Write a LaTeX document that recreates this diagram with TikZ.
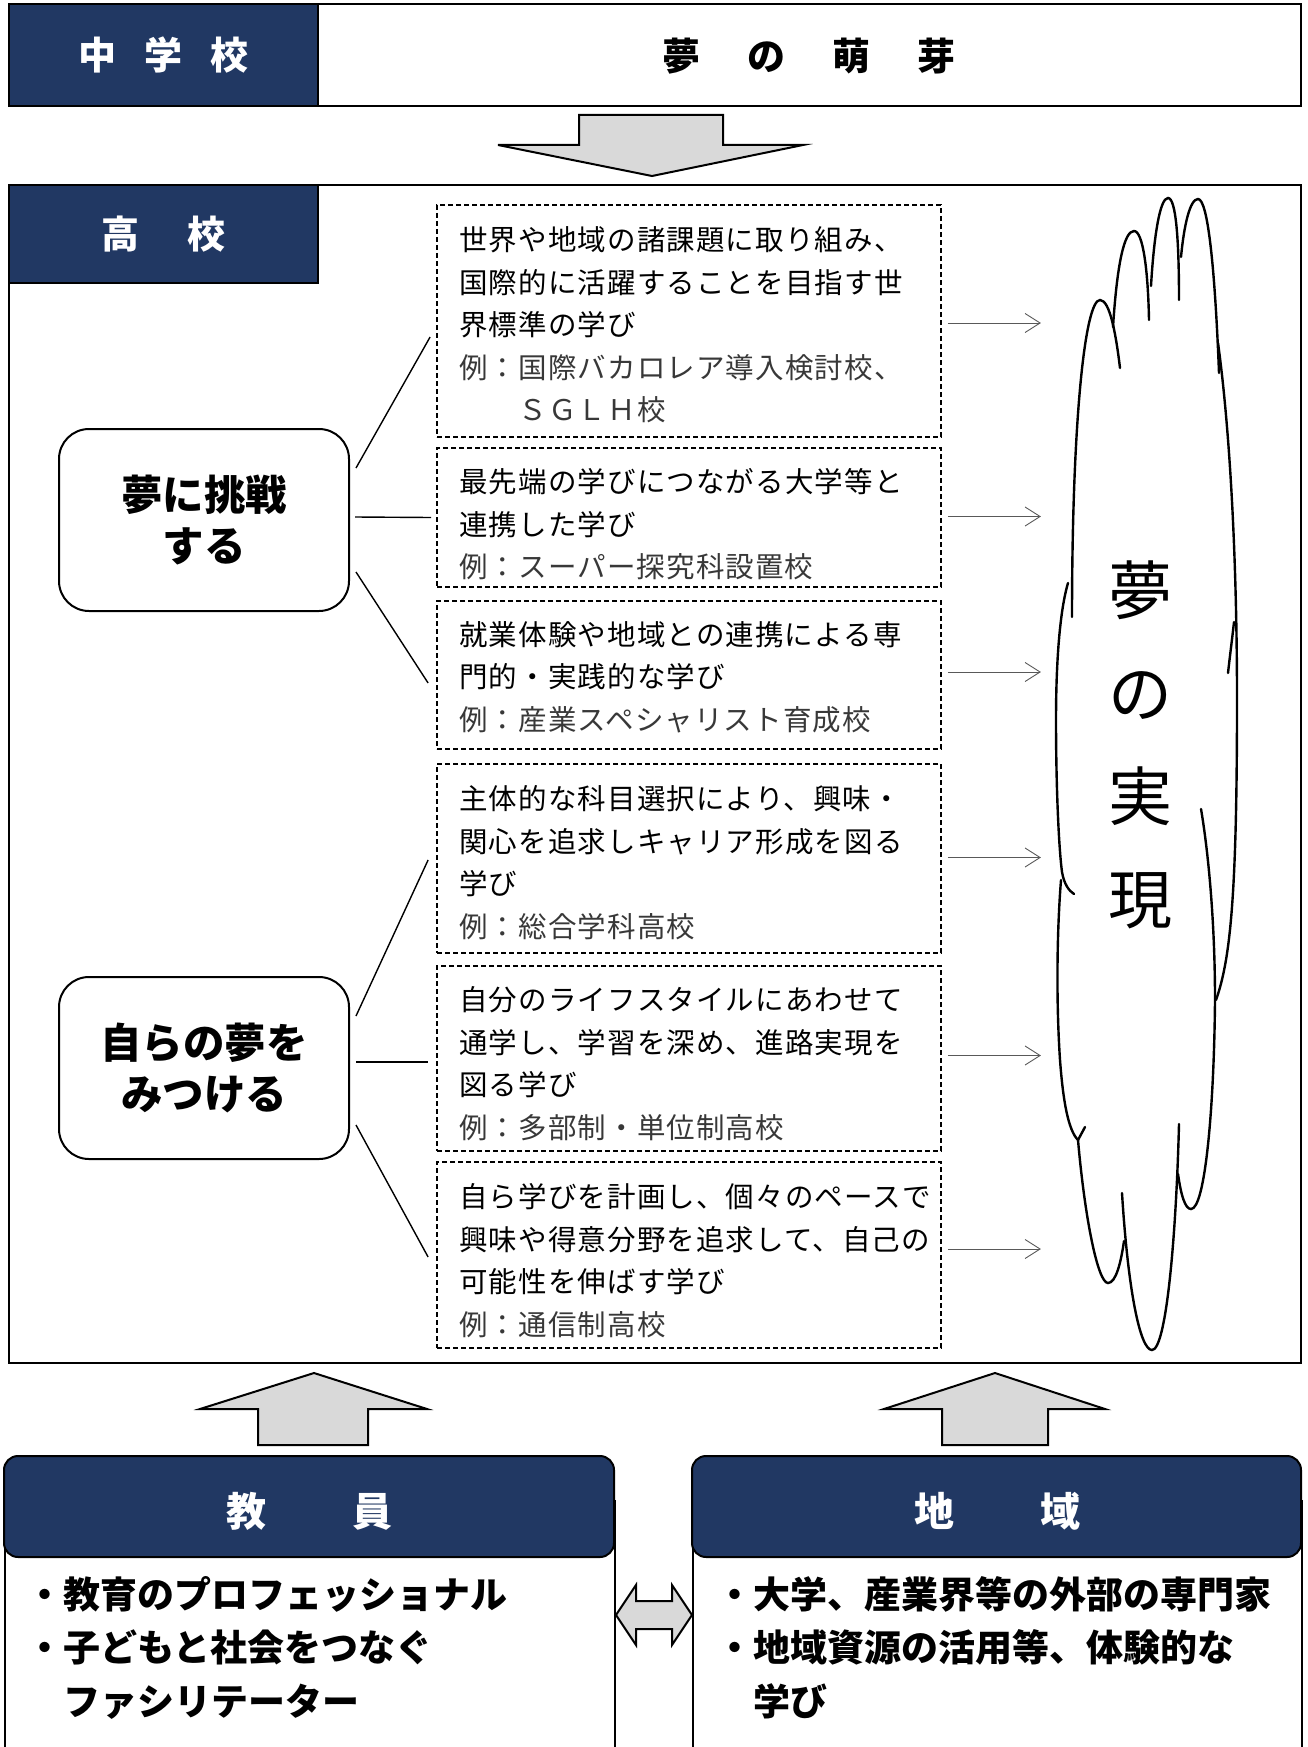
\documentclass[tikz,border=0pt]{standalone}
\usepackage{fontspec}
\setmainfont{Noto Sans CJK JP}
\usetikzlibrary{arrows.meta,calc}
\definecolor{hdrnavy}{RGB}{33,56,99}
\definecolor{blockgray}{RGB}{217,217,217}
\newcommand{\exline}[1]{{\color{black!78}#1}}
\begin{document}
\begin{tikzpicture}[x=1pt,y=-1pt,
 outerbox/.style={draw=black, line width=2.2pt, inner sep=0pt},
 navyhead/.style={draw=black, line width=2.2pt, fill=hdrnavy, text=white, inner sep=0pt, font=\bfseries\fontsize{38}{46}\selectfont},
 dreambox/.style={draw=black, line width=2pt, rounded corners=30pt, minimum width=290pt, minimum height=182pt, inner sep=0pt, align=center, font=\bfseries\fontsize{41.5}{51}\selectfont},
 studybox/.style={draw=black, line width=1.8pt, dash pattern=on 5pt off 3pt, minimum width=504pt, inner sep=0pt},
 studytext/.style={anchor=west, align=left, inner sep=0pt, font=\fontsize{28.5}{42.5}\selectfont\addfontfeature{LetterSpace=4}},
 link/.style={draw=black, line width=1.4pt},
 flow/.style={draw=black!65, line width=0.9pt, -{Straight Barb[length=15pt,width=19pt]}},
 blockarrow/.style={draw=black, line width=2pt, fill=blockgray, line join=miter},
 cloudline/.style={draw=black, line width=2.4pt, line cap=round},
 bodybox/.style={draw=black, line width=1.6pt, inner sep=0pt, anchor=north west},
 partyhead/.style={draw=black, line width=2pt, fill=hdrnavy, rounded corners=14pt, minimum height=101pt, inner sep=0pt, text=white, font=\bfseries\fontsize{40}{48}\selectfont},
 bullettext/.style={anchor=west, align=left, inner sep=0pt, font=\bfseries\fontsize{37}{53.5}\selectfont}
]
\useasboundingbox (0,0) rectangle (1307,1747);

% junior high
\node[outerbox, minimum width=1292pt, minimum height=102pt] (jhsbox) at (655,55) {};
\node[navyhead, minimum width=309pt, minimum height=102pt] (jhslabel) at (163.5,55) {中\hspace{28pt}学\hspace{28pt}校};
\node[font=\bfseries\fontsize{38}{46}\selectfont, inner sep=0pt] (jhstext) at (809,56) {夢\hspace{47pt}の\hspace{47pt}萌\hspace{47pt}芽};

\draw[blockarrow] (579,115) -- (723,115) -- (723,145) -- (803,145) -- (652,176) -- (498,145) -- (579,145) -- cycle;

% high school
\node[outerbox, minimum width=1292pt, minimum height=1178pt] (hsbox) at (655,774) {};
\node[navyhead, minimum width=309pt, minimum height=98pt] (hslabel) at (163.5,234) {高\hspace{48pt}校};

\node[dreambox] (A) at (204,520) {夢に挑戦\\する};
\node[dreambox] (B) at (204,1068) {自らの夢を\\みつける};

\node[studybox, minimum height=232pt] (b1) at (689,321) {};
\node[studybox, minimum height=139pt] (b2) at (689,517.5) {};
\node[studybox, minimum height=148pt] (b3) at (689,675) {};
\node[studybox, minimum height=189pt] (b4) at (689,858.5) {};
\node[studybox, minimum height=185pt] (b5) at (689,1058.5) {};
\node[studybox, minimum height=186pt] (b6) at (689,1255) {};

\node[studytext] (t1) at (459,325) {世界や地域の諸課題に取り組み、\\国際的に活躍することを目指す世\\界標準の学び\\\exline{例：国際バカロレア導入検討校、}\\\exline{　　ＳＧＬＨ校}};
\node[studytext] (t2) at (459,524.5) {最先端の学びにつながる大学等と\\連携した学び\\\exline{例：スーパー探究科設置校}};
\node[studytext] (t3) at (459,677) {就業体験や地域との連携による専\\門的・実践的な学び\\\exline{例：産業スペシャリスト育成校}};
\node[studytext] (t4) at (459,862.5) {主体的な科目選択により、興味・\\関心を追求しキャリア形成を図る\\学び\\\exline{例：総合学科高校}};
\node[studytext] (t5) at (459,1063.5) {自分のライフスタイルにあわせて\\通学し、学習を深め、進路実現を\\図る学び\\\exline{例：多部制・単位制高校}};
\node[studytext] (t6) at (459,1260.5) {自ら学びを計画し、個々のペースで\\興味や得意分野を追求して、自己の\\可能性を伸ばす学び\\\exline{例：通信制高校}};

\draw[link] ($(A.east)+(6,-52)$) -- ($(b1.west)+(-6,16)$);
\draw[link] ($(A.east)+(5,-3)$) -- ($(b2.west)+(-5,0)$);
\draw[link] ($(A.east)+(6,52)$) -- ($(b3.west)+(-8,8)$);
\draw[link] ($(B.east)+(6,-52)$) -- ($(b4.west)+(-8,1.5)$);
\draw[link] ($(B.east)+(6,-6)$) -- ($(b5.west)+(-8,3.5)$);
\draw[link] ($(B.east)+(6,57)$) -- ($(b6.west)+(-8,2)$);

\draw[flow] ($(b1.east)+(6,2)$) -- ++(93,0);
\draw[flow] ($(b2.east)+(6,-1)$) -- ++(93,0);
\draw[flow] ($(b3.east)+(6,-3)$) -- ++(93,0);
\draw[flow] ($(b4.east)+(6,-1)$) -- ++(93,0);
\draw[flow] ($(b5.east)+(6,-3)$) -- ++(93,0);
\draw[flow] ($(b6.east)+(6,-6)$) -- ++(93,0);

% cloud
\draw[cloudline] (1072,617) .. controls (1072,420) and (1085,300) .. (1100,300) .. controls (1110,300) and (1116,335) .. (1120,368);
\draw[cloudline] (1113,327) .. controls (1117,265) and (1124,231) .. (1134,231) .. controls (1143,231) and (1148,270) .. (1149,320);
\draw[cloudline] (1151,286) .. controls (1154,235) and (1160,198) .. (1168,198) .. controls (1176,198) and (1179,240) .. (1179,300);
\draw[cloudline] (1181,257) .. controls (1184,225) and (1190,199) .. (1198,199) .. controls (1208,199) and (1215,270) .. (1219,373);
\draw[cloudline] (1218,343) .. controls (1230,430) and (1237,560) .. (1237,700) .. controls (1237,900) and (1230,960) .. (1216,1000);
\draw[cloudline] (1228,673) .. controls (1230,655) and (1232,640) .. (1234,622);
\draw[cloudline] (1068,583) .. controls (1060,610) and (1056,660) .. (1056,720) .. controls (1056,790) and (1059,850) .. (1062,872) .. controls (1064,884) and (1069,891) .. (1074,894);
\draw[cloudline] (1061,880) .. controls (1057,930) and (1056,1000) .. (1060,1060) .. controls (1063,1100) and (1068,1130) .. (1078,1140) -- (1085,1127);
\draw[cloudline] (1078,1140) .. controls (1085,1220) and (1098,1283) .. (1108,1283) .. controls (1116,1283) and (1121,1262) .. (1124,1241);
\draw[cloudline] (1122,1193) .. controls (1128,1290) and (1140,1350) .. (1152,1350) .. controls (1166,1350) and (1176,1240) .. (1179,1124);
\draw[cloudline] (1178,1174) .. controls (1181,1195) and (1185,1209) .. (1191,1209) .. controls (1205,1209) and (1214,1110) .. (1215,1000) .. controls (1215,920) and (1208,850) .. (1201,809);
\node[font=\fontsize{64}{103}\selectfont, align=center, inner sep=0pt] (dreamtext) at (1140,745) {夢\\の\\実\\現};

% support arrows
\draw[blockarrow] (258,1445) -- (258,1409) -- (200,1409) -- (314,1373) -- (427,1409) -- (368,1409) -- (368,1445) -- cycle;
\draw[blockarrow] (942,1445) -- (942,1409) -- (884,1409) -- (995,1373) -- (1105,1409) -- (1048,1409) -- (1048,1445) -- cycle;

% teachers / community
\node[bodybox, minimum width=610pt, minimum height=300pt] (tbody) at (4,1500) {};
\node[bodybox, minimum width=609pt, minimum height=300pt] (cbody) at (692,1500) {};
\node[partyhead, minimum width=610pt] (thead) at (309,1506.5) {};
\node[partyhead, minimum width=609pt] (chead) at (996.5,1506.5) {};
\node[text=white, font=\bfseries\fontsize{40}{48}\selectfont, inner sep=0pt] (ttitle) at (309,1511) {教\hspace{86pt}員};
\node[text=white, font=\bfseries\fontsize{40}{48}\selectfont, inner sep=0pt] (ctitle) at (997,1511) {地\hspace{86pt}域};
\node[bullettext] (tlist) at (26,1647.5) {・教育のプロフェッショナル\\・子どもと社会をつなぐ\\\phantom{・}ファシリテーター};
\node[bullettext] (clist) at (716,1647.5) {・大学、産業界等の外部の専門家\\・地域資源の活用等、体験的な\\\phantom{・}学び};

\draw[blockarrow] (616,1615) -- (636,1585) -- (636,1601) -- (672,1601) -- (672,1585) -- (692,1615) -- (672,1645) -- (672,1629) -- (636,1629) -- (636,1645) -- cycle;
\end{tikzpicture}
\end{document}
